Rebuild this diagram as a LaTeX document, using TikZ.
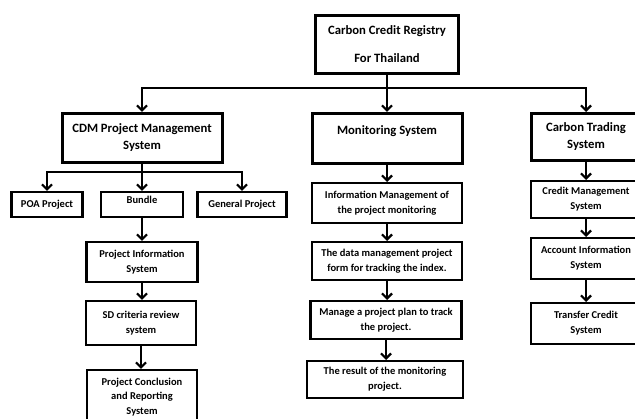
\documentclass[tikz,border=0pt]{standalone}
\usepackage{fontspec}
\setmainfont{Carlito}
\usetikzlibrary{arrows.meta, positioning}
\tikzset{
  mainbox/.style={draw=black, rectangle, align=center, line width=3pt, inner sep=1pt, anchor=north, font=\bfseries\fontsize{12.7}{17}\selectfont},
  subbox/.style={draw=black, rectangle, align=center, line width=2.2pt, inner sep=1pt, anchor=north, font=\bfseries\fontsize{10.5}{15}\selectfont},
  arrow/.style={-{Straight Barb[length=5pt, width=10pt, line width=2.2pt]}, line width=2.2pt, draw=black},
  line/.style={line width=2.2pt, draw=black}
}
\begin{document}
\begin{tikzpicture}[x=1pt, y=-1pt]
\useasboundingbox (0,0) rectangle (635,419);

% top level
\node[mainbox, minimum width=143pt, minimum height=58pt] (reg) at (387,14) {Carbon Credit Registry\\[11pt]For Thailand};
\node[mainbox, minimum width=160pt, minimum height=49pt] (cdm) at (142,112) {CDM Project Management\\System};
\node[mainbox, minimum width=150pt, minimum height=50pt] (mon) at (387,112) {Monitoring System\\~};
\node[mainbox, minimum width=110pt, minimum height=47pt] (ctr) at (586,112) {Carbon Trading\\System};

% CDM branch
\node[subbox, minimum width=71pt, minimum height=25pt] (poa) at (47,191) {POA Project};
\node[subbox, minimum width=82pt, minimum height=25pt] (bun) at (142,191) {Bundle\\[-6pt]~};
\node[subbox, minimum width=89pt, minimum height=25pt] (gen) at (242,191) {General Project};
\node[subbox, minimum width=111pt, minimum height=40pt] (pis) at (142,241) {Project Information\\System};
\node[subbox, minimum width=110pt, minimum height=44pt] (sdc) at (141,300) {SD criteria review\\system};
\node[subbox, minimum width=110pt, minimum height=54pt, font=\bfseries\fontsize{10.5}{14.5}\selectfont] (pcr) at (142,369) {Project Conclusion\\and Reporting\\System};

% monitoring branch
\node[subbox, minimum width=150pt, minimum height=40pt] (imp) at (387,182) {Information Management of\\the project monitoring};
\node[subbox, minimum width=150pt, minimum height=38pt] (dmp) at (387,241) {The data management project\\form for tracking the index.};
\node[subbox, minimum width=151pt, minimum height=38pt] (mpp) at (386,300) {Manage a project plan to track\\the project.};
\node[subbox, minimum width=156pt, minimum height=37pt] (res) at (385,360) {The result of the monitoring\\project.};

% trading branch
\node[subbox, minimum width=110pt, minimum height=37pt] (crm) at (586,180) {Credit Management\\System};
\node[subbox, minimum width=110pt, minimum height=41pt] (aci) at (586,237) {Account Information\\System};
\node[subbox, minimum width=110pt, minimum height=41pt] (trc) at (586,302) {Transfer Credit\\System};

\coordinate (hub) at (387,88);
\coordinate (fork) at (142,172);

\draw[arrow] (reg) -- (mon);
\draw[arrow] (hub) -| (cdm.north);
\draw[arrow] (hub) -| (ctr.north);

\draw[line] (cdm) -- (fork);
\draw[arrow] (fork) -| (poa.north);
\draw[arrow] (cdm) -- (bun);
\draw[arrow] (fork) -| (gen.north);
\draw[arrow] (bun) -- (pis);
\draw[arrow] (pis.south) -- (pis.south |- sdc.north);
\draw[arrow] (sdc.south) -- (sdc.south |- pcr.north);

\draw[arrow] (mon) -- (imp);
\draw[arrow] (imp) -- (dmp);
\draw[arrow] (dmp.south) -- (dmp.south |- mpp.north);
\draw[arrow] (mpp.south) -- (mpp.south |- res.north);

\draw[arrow] (ctr) -- (crm);
\draw[arrow] (crm) -- (aci);
\draw[arrow] (aci) -- (trc);

\end{tikzpicture}
\end{document}
